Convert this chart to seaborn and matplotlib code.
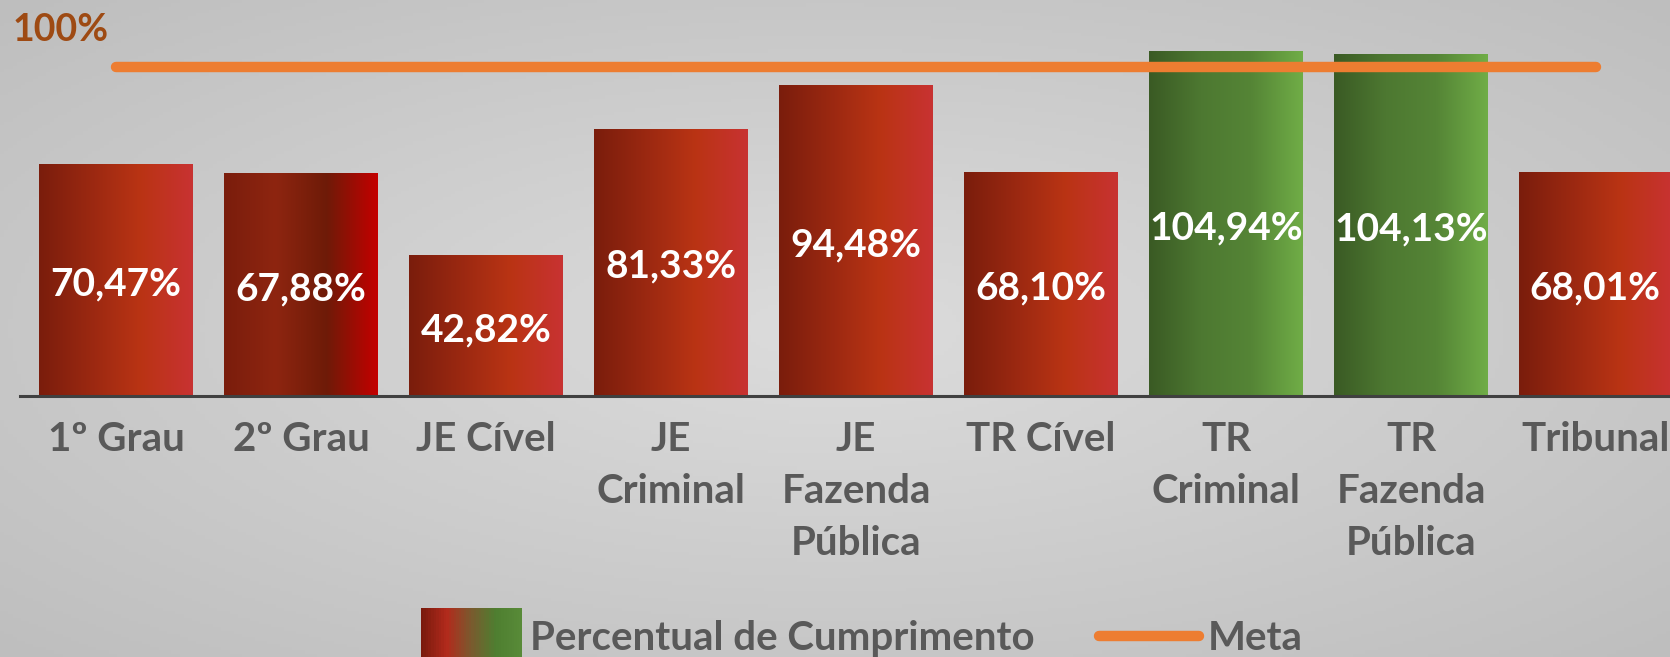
import numpy as np
import pandas as pd
import matplotlib
matplotlib.use("Agg")
import matplotlib.pyplot as plt
import seaborn as sns
from matplotlib.colors import LinearSegmentedColormap
from matplotlib.patches import Rectangle, Patch
from matplotlib.lines import Line2D
from matplotlib.legend_handler import HandlerBase

## Dados ##
categorias = ["1º Grau", "2º Grau", "JE Cível", "JE\nCriminal", "JE\nFazenda\nPública",
              "TR Cível", "TR\nCriminal", "TR\nFazenda\nPública", "Tribunal"]
percentual = [70.47, 67.88, 42.82, 81.33, 94.48, 68.10, 104.94, 104.13, 68.01]
meta = 100

df = pd.DataFrame({"Categoria": categorias, "Percentual": percentual})

## Cores ##
grad_vermelho = ['#7A1D0C', '#9A2811', '#BA3414', '#C83232']
grad_vermelho2 = ['#7A1D0C', '#8E2510', '#6E1B08', '#C40000']
grad_verde = ['#3A5A24', '#4D7831', '#558536', '#70AD47']
grad_legenda = ['#7A1A0D', '#B22A1C', '#7A5A2E', '#4E7E30', '#588A38']
cor_meta = '#ED7D31'
cor_texto = '#595959'

sns.set_style("white")
plt.rcParams['font.family'] = ['Lato', 'DejaVu Sans']

fig = plt.figure(figsize=(16.7, 6.57), dpi=100)

# fundo cinza com gradiente radial
bg = fig.add_axes([0, 0, 1, 1], zorder=-10)
yy, xx = np.mgrid[-1:1:200j, -1:1:400j]
r = np.sqrt(xx**2 + yy**2) / np.sqrt(2)
cmap_bg = LinearSegmentedColormap.from_list('bg', ['#DCDCDC', '#CDCDCD', '#BEBEBE'])
bg.imshow(r, cmap=cmap_bg, aspect='auto', extent=[0, 1, 0, 1])
bg.axis('off')

ax = fig.add_axes([20/1670, 261/657, 1650/1670, 396/657])
ax.set_facecolor('none')
sns.barplot(data=df, x='Categoria', y='Percentual', ax=ax, width=0.83,
            color='#B03015', linewidth=0, zorder=1)


def pinta_gradiente(ax, bar, cores):
    x0, y0 = bar.get_x(), bar.get_y()
    w, h = bar.get_width(), bar.get_height()
    cmap = LinearSegmentedColormap.from_list('g', cores)
    grad = np.linspace(0, 1, 256).reshape(1, -1)
    im = ax.imshow(grad, cmap=cmap, extent=[x0, x0 + w, y0, y0 + h],
                   aspect='auto', zorder=1.5, origin='lower', interpolation='bicubic')
    im.set_clip_path(bar)
    bar.set_facecolor('none')


for i, (bar, v) in enumerate(zip(ax.patches, percentual)):
    if v >= meta:
        cores = grad_verde
    elif i == 1:
        cores = grad_vermelho2
    else:
        cores = grad_vermelho
    pinta_gradiente(ax, bar, cores)

rotulos = [f"{v:.2f}%".replace('.', ',') for v in percentual]
ax.bar_label(ax.containers[0], labels=rotulos, label_type='center', padding=-3,
             fontsize=28, fontweight='bold', color='white', zorder=5)

# linha da meta
xs = np.arange(len(categorias))
ax.plot(xs, [meta] * len(xs), color=cor_meta, linewidth=7.5,
        solid_capstyle='round', zorder=3)

ax.set_xticks(xs)
ax.set_xticklabels(categorias, fontsize=29, fontweight='bold', color=cor_texto,
                   linespacing=1.5)
ax.tick_params(axis='x', length=0, pad=18)
ax.set_yticks([])
ax.set_xlabel('')
ax.set_ylabel('')
sns.despine(ax=ax, left=True, top=True, right=True)
ax.spines['bottom'].set_color('#404040')
ax.spines['bottom'].set_linewidth(2.2)
ax.set_xlim(-0.52, 8.40)
ax.set_ylim(0, 120.4)

fig.text(13/1670, 1 - 13/657, "100%", fontsize=27, fontweight='bold',
         color='#9E4A13', ha='left', va='top')


class HandlerGradiente(HandlerBase):
    def create_artists(self, legend, orig_handle, xdescent, ydescent,
                       width, height, fontsize, trans):
        cmap = LinearSegmentedColormap.from_list('leg', grad_legenda)
        n = 40
        h = height * 2.0
        y0 = -ydescent - (h - height) / 2
        arts = []
        for k in range(n):
            arts.append(Rectangle((-xdescent + k * width / n, y0), width / n * 1.08, h,
                                  facecolor=cmap(k / (n - 1)), edgecolor='none',
                                  transform=trans))
        return arts


h_barra = Patch(facecolor='#B03015')
h_meta = Line2D([0], [0], color=cor_meta, linewidth=7.5, solid_capstyle='round')
leg = fig.legend([h_barra, h_meta], ["Percentual de Cumprimento", "Meta"],
                 loc='center', bbox_to_anchor=(0.516, 0.028), ncol=2, frameon=False,
                 fontsize=29, handlelength=2.5, handletextpad=0.2, columnspacing=1.6,
                 handler_map={Patch: HandlerGradiente()})
for t in leg.get_texts():
    t.set_color(cor_texto)
    t.set_fontweight('bold')

fig.savefig("out.png", dpi=100)
